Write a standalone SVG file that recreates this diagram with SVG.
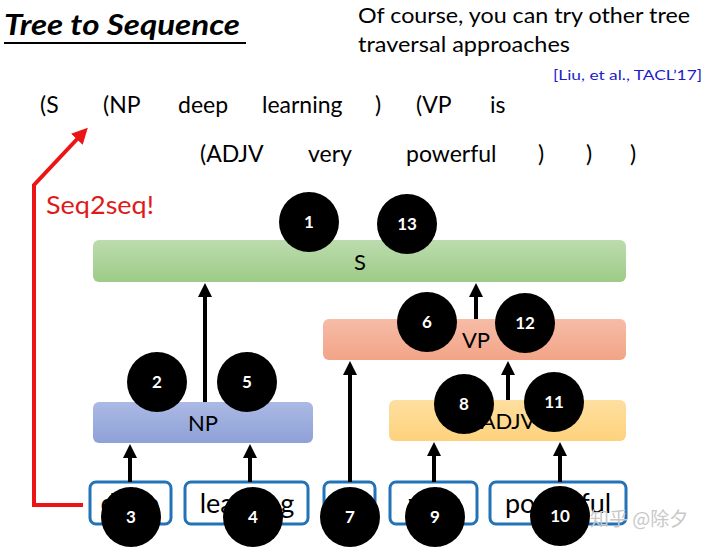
<svg xmlns="http://www.w3.org/2000/svg" width="720" height="549" viewBox="0 0 720 549">
  <style>
    .t { font-family: Lato, "Open Sans", "Liberation Sans", sans-serif; fill: #000; }
    .seq { font-size: 23px; }
    .lbl { font-size: 22px; text-anchor: middle; }
    .word { font-size: 27px; text-anchor: middle; }
    .wbox { fill: #fff; stroke: #2272b8; stroke-width: 3; }
    .num { font-family: Lato, "Liberation Sans", sans-serif; font-weight: bold; font-size: 17px; fill: #fff; text-anchor: middle; }
    .dot { fill: #000; }
    .conn { stroke: #000; stroke-width: 4; fill: none; }
  </style>
  <defs>
    <marker id="ah" viewBox="0 0 14 14" refX="4" refY="7" markerWidth="14" markerHeight="14" markerUnits="userSpaceOnUse" orient="auto">
      <path d="M0,0 L14,7 L0,14 z" fill="#000"/>
    </marker>
    <marker id="ahr" viewBox="0 0 14 14" refX="4" refY="7" markerWidth="16" markerHeight="16" markerUnits="userSpaceOnUse" orient="auto">
      <path d="M0,0 L14,7 L0,14 z" fill="#ec1515"/>
    </marker>
    <linearGradient id="gS" x1="0" y1="0" x2="0" y2="1">
      <stop offset="0" stop-color="#bcdcae"/>
      <stop offset="1" stop-color="#9dcb87"/>
    </linearGradient>
    <linearGradient id="gVP" x1="0" y1="0" x2="0" y2="1">
      <stop offset="0" stop-color="#f7bca7"/>
      <stop offset="1" stop-color="#f2a487"/>
    </linearGradient>
    <linearGradient id="gNP" x1="0" y1="0" x2="0" y2="1">
      <stop offset="0" stop-color="#abb9e4"/>
      <stop offset="1" stop-color="#8ea1d7"/>
    </linearGradient>
    <linearGradient id="gADJV" x1="0" y1="0" x2="0" y2="1">
      <stop offset="0" stop-color="#fedfa0"/>
      <stop offset="1" stop-color="#fdd27c"/>
    </linearGradient>
  </defs>
  <rect width="720" height="549" fill="#fff"/>

  <!-- header texts -->
  <g id="title">
    <text class="t" x="4" y="35" font-size="28" font-weight="bold" font-style="italic" textLength="236" lengthAdjust="spacingAndGlyphs">Tree to Sequence</text>
    <line x1="4" y1="43" x2="246" y2="43" stroke="#000" stroke-width="2"/>
  </g>
  <g id="note">
    <text class="t" x="358" y="23" font-size="21" textLength="332" lengthAdjust="spacingAndGlyphs">Of course, you can try other tree</text>
    <text class="t" x="358" y="52" font-size="21" textLength="212" lengthAdjust="spacingAndGlyphs">traversal approaches</text>
    <text class="t" x="553" y="80" font-size="14" style="fill:#1c1cc8" textLength="149" lengthAdjust="spacingAndGlyphs">[Liu, et al., TACL’17]</text>
  </g>
  <g id="sequence" class="t seq">
    <text x="40" y="113">(S</text>
    <text x="103" y="113">(NP</text>
    <text x="178" y="113">deep</text>
    <text x="262" y="113">learning</text>
    <text x="375" y="113">)</text>
    <text x="416" y="113">(VP</text>
    <text x="490" y="113">is</text>
    <text x="200" y="162">(ADJV</text>
    <text x="308" y="162">very</text>
    <text x="406" y="162">powerful</text>
    <text x="538" y="162">)</text>
    <text x="586" y="162">)</text>
    <text x="630" y="162">)</text>
  </g>

  <!-- tree nodes -->
  <g id="node-S">
    <rect x="93" y="240" width="533" height="42" rx="6" fill="url(#gS)"/>
    <text class="t lbl" x="360" y="270">S</text>
  </g>
  <g id="node-VP">
    <rect x="323" y="319" width="303" height="41" rx="6" fill="url(#gVP)"/>
    <text class="t lbl" x="476" y="348">VP</text>
  </g>
  <g id="node-NP">
    <rect x="93" y="402" width="220" height="41" rx="6" fill="url(#gNP)"/>
    <text class="t lbl" x="203" y="431">NP</text>
  </g>
  <g id="node-ADJV">
    <rect x="389" y="400" width="237" height="41" rx="6" fill="url(#gADJV)"/>
    <text class="t lbl" x="508" y="429">ADJV</text>
  </g>

  <g id="word-deep">
    <rect class="wbox" x="90" y="482" width="81" height="42" rx="6"/>
    <text class="t word" x="130" y="513">deep</text>
  </g>
  <g id="word-learning">
    <rect class="wbox" x="185" y="482" width="123" height="42" rx="6"/>
    <text class="t word" x="247" y="513">learning</text>
  </g>
  <g id="word-is">
    <rect class="wbox" x="324" y="482" width="51" height="42" rx="6"/>
    <text class="t word" x="350" y="513">is</text>
  </g>
  <g id="word-very">
    <rect class="wbox" x="390" y="482" width="87" height="42" rx="6"/>
    <text class="t word" x="434" y="513">very</text>
  </g>
  <g id="word-powerful">
    <rect class="wbox" x="490" y="482" width="136" height="42" rx="6"/>
    <text class="t word" x="558" y="513">powerful</text>
  </g>

  <!-- connectors -->
  <g id="connectors">
    <line class="conn" x1="130" y1="482" x2="130" y2="454" marker-end="url(#ah)"/>
    <line class="conn" x1="250" y1="482" x2="250" y2="454" marker-end="url(#ah)"/>
    <line class="conn" x1="205" y1="402" x2="205" y2="293" marker-end="url(#ah)"/>
    <line class="conn" x1="350" y1="482" x2="350" y2="371" marker-end="url(#ah)"/>
    <line class="conn" x1="434" y1="482" x2="434" y2="452" marker-end="url(#ah)"/>
    <line class="conn" x1="560" y1="482" x2="560" y2="452" marker-end="url(#ah)"/>
    <line class="conn" x1="508" y1="400" x2="508" y2="371" marker-end="url(#ah)"/>
    <line class="conn" x1="476" y1="319" x2="476" y2="293" marker-end="url(#ah)"/>
    <polyline points="83,505 34,505 34,185 80,136" fill="none" stroke="#ec1515" stroke-width="4" marker-end="url(#ahr)"/>
  </g>
  <g id="seq2seq-label">
    <text class="t" x="46" y="214" font-size="25" style="fill:#e01a1a" textLength="108" lengthAdjust="spacingAndGlyphs">Seq2seq!</text>
  </g>

  <!-- order circles -->
  <g id="step-1"><circle class="dot" cx="309" cy="222" r="30"/><text class="num" x="309" y="228">1</text></g>
  <g id="step-13"><circle class="dot" cx="407" cy="224" r="30"/><text class="num" x="407" y="230">13</text></g>
  <g id="step-6"><circle class="dot" cx="427" cy="322" r="30"/><text class="num" x="427" y="328">6</text></g>
  <g id="step-12"><circle class="dot" cx="525" cy="323" r="30"/><text class="num" x="525" y="329">12</text></g>
  <g id="step-2"><circle class="dot" cx="157" cy="382" r="30"/><text class="num" x="157" y="388">2</text></g>
  <g id="step-5"><circle class="dot" cx="247" cy="382" r="30"/><text class="num" x="247" y="388">5</text></g>
  <g id="step-8"><circle class="dot" cx="464" cy="404" r="30"/><text class="num" x="464" y="410">8</text></g>
  <g id="step-11"><circle class="dot" cx="554" cy="402" r="30"/><text class="num" x="554" y="408">11</text></g>
  <g id="step-3"><circle class="dot" cx="131" cy="517" r="30"/><text class="num" x="131" y="523">3</text></g>
  <g id="step-4"><circle class="dot" cx="253" cy="517" r="30"/><text class="num" x="253" y="523">4</text></g>
  <g id="step-7"><circle class="dot" cx="350" cy="517" r="30"/><text class="num" x="350" y="523">7</text></g>
  <g id="step-9"><circle class="dot" cx="435" cy="517" r="30"/><text class="num" x="435" y="523">9</text></g>
  <g id="step-10"><circle class="dot" cx="560" cy="516" r="30"/><text class="num" x="560" y="522">10</text></g>

  <g id="watermark">
    <text x="590" y="526" font-family="'Noto Sans CJK SC', sans-serif" font-size="19" fill="#c8c8c8">知乎 @除夕</text>
  </g>
</svg>
